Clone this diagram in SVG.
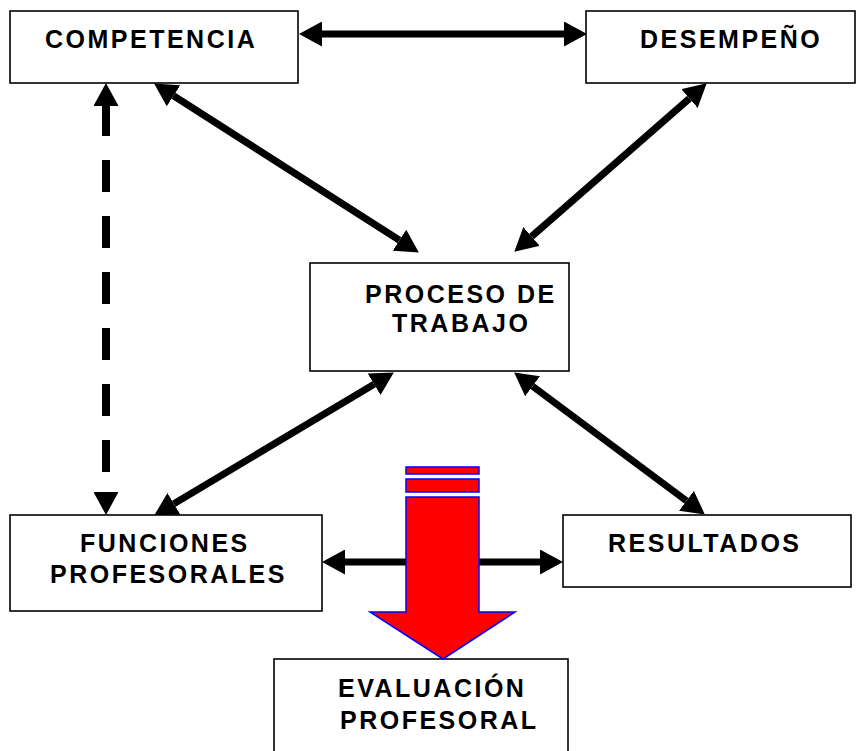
<svg xmlns="http://www.w3.org/2000/svg" width="865" height="751" viewBox="0 0 865 751">
<style>
.box{fill:#fff;stroke:#000;stroke-width:1.6}
.t{font-family:"Liberation Sans",Arial,sans-serif;font-weight:bold;font-size:25px;letter-spacing:2.5px;fill:#000}
.c{stroke:#000;stroke-width:7;fill:none;marker-start:url(#h);marker-end:url(#h)}
.d{stroke:#000;stroke-width:8;fill:none;stroke-dasharray:32 24;stroke-dashoffset:2;marker-start:url(#h);marker-end:url(#h)}
.red{fill:#ff0000;stroke:#0000ff;stroke-width:1.5}
</style>
<defs>
<marker id="h" viewBox="0 0 23 25" refX="0" refY="12.5" markerWidth="23" markerHeight="25" markerUnits="userSpaceOnUse" orient="auto-start-reverse">
<path d="M0,0 L23,12.5 L0,25 Z" fill="#000"/>
</marker>
</defs>
<rect width="865" height="751" fill="#fff"/>
<g id="connectors">
<line class="c" x1="322" y1="34" x2="564" y2="34"/>
<line class="c" x1="345" y1="562" x2="540" y2="562"/>
<line class="c" x1="173.5" y1="95.8" x2="399.5" y2="240.2"/>
<line class="c" x1="689.4" y1="98.5" x2="531.6" y2="236.5"/>
<line class="c" x1="374.1" y1="384.3" x2="173.9" y2="503.7"/>
<line class="c" x1="532.6" y1="386.2" x2="686.4" y2="500.8"/>
<line class="d" x1="106" y1="106" x2="106" y2="492"/>
</g>
<g id="competencia">
<rect class="box" x="10" y="11" width="288" height="72"/>
<text class="t" x="45" y="48">COMPETENCIA</text>
</g>
<g id="desempeno">
<rect class="box" x="586" y="11" width="269" height="72"/>
<text class="t" x="640" y="48">DESEMPEÑO</text>
</g>
<g id="proceso">
<rect class="box" x="310" y="263" width="259" height="108"/>
<text class="t" x="365" y="303">PROCESO DE</text>
<text class="t" x="392" y="332">TRABAJO</text>
</g>
<g id="funciones">
<rect class="box" x="10" y="515" width="312" height="96"/>
<text class="t" x="80" y="552">FUNCIONES</text>
<text class="t" x="50" y="583">PROFESORALES</text>
</g>
<g id="resultados">
<rect class="box" x="563" y="515" width="288" height="72"/>
<text class="t" x="608" y="552">RESULTADOS</text>
</g>
<g id="evaluacion">
<rect class="box" x="274" y="659" width="294" height="110"/>
<text class="t" x="338" y="697">EVALUACIÓN</text>
<text class="t" x="340" y="729">PROFESORAL</text>
</g>
<g id="red-arrow">
<rect class="red" x="406" y="467" width="73" height="7"/>
<rect class="red" x="406" y="479" width="73" height="13"/>
<polygon class="red" points="406,497 479,497 479,612 515,612 443,659 370,612 406,612"/>
</g>
</svg>
